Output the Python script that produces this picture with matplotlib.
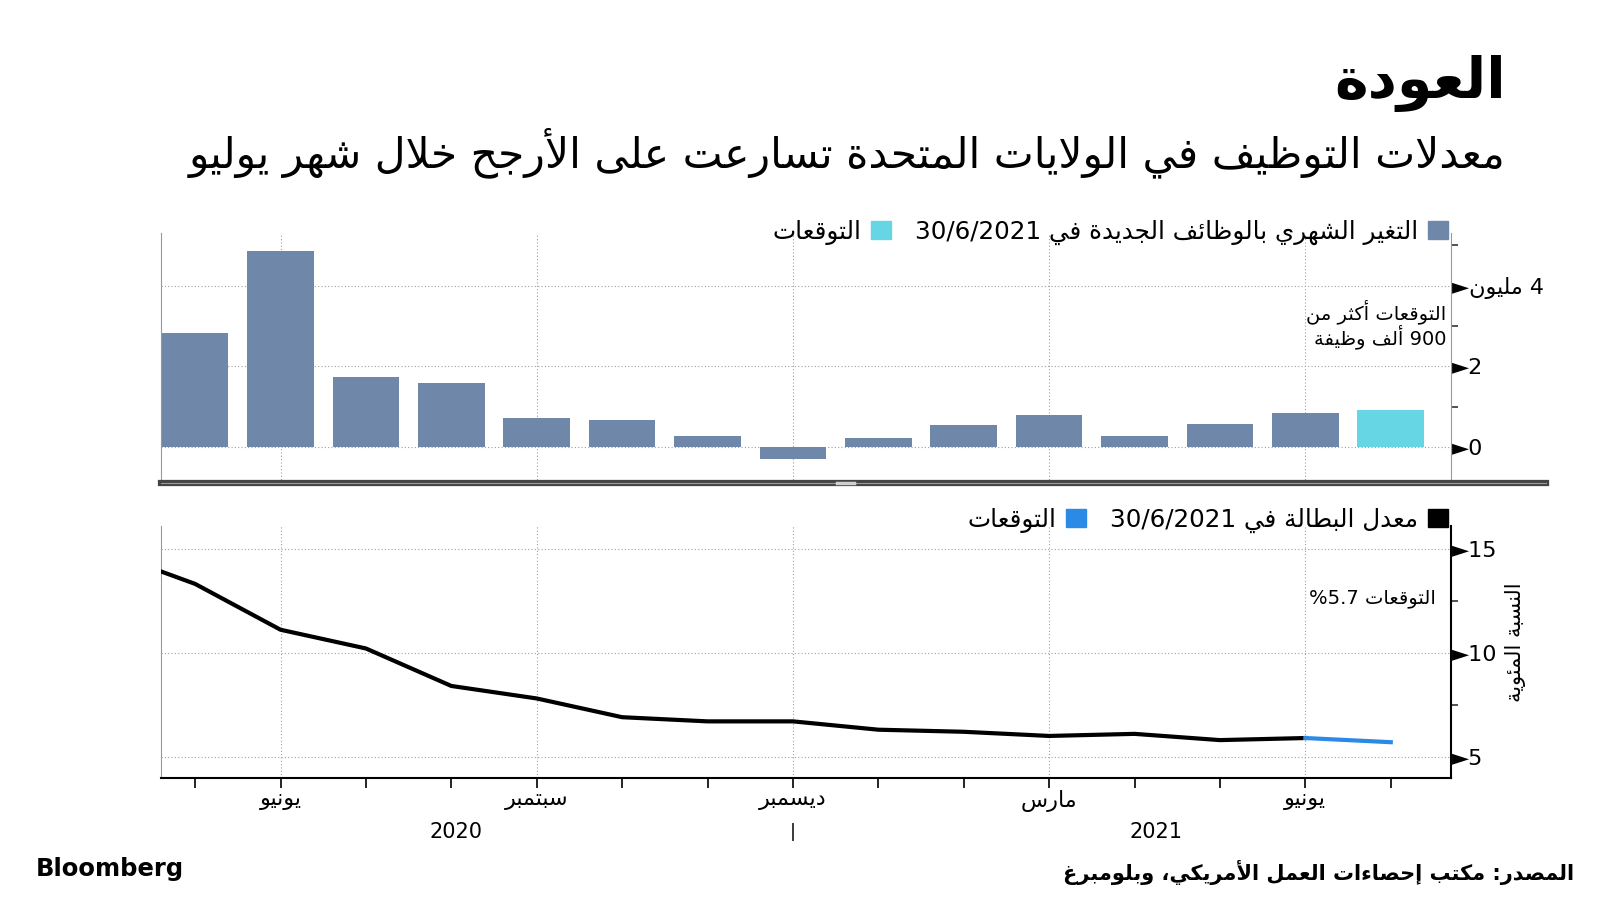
import re
import numpy as np
import matplotlib
matplotlib.use('Agg')
import matplotlib.pyplot as plt
from matplotlib.patches import Patch
from matplotlib.lines import Line2D
import matplotlib.transforms as mtransforms

# --- data -------------------------------------------------------------
months = ['May20', 'Jun20', 'Jul20', 'Aug20', 'Sep20', 'Oct20', 'Nov20', 'Dec20',
          'Jan21', 'Feb21', 'Mar21', 'Apr21', 'May21', 'Jun21', 'Jul21']
payrolls = [2.83, 4.85, 1.73, 1.58, 0.72, 0.68, 0.26, -0.31,
            0.23, 0.54, 0.79, 0.27, 0.58, 0.85]       # millions
payrolls_fcst = 0.91

unemp_months = ['Apr20'] + months[:-1]
unemp = [14.8, 13.3, 11.1, 10.2, 8.4, 7.8, 6.9, 6.7, 6.7,
         6.3, 6.2, 6.0, 6.1, 5.8, 5.9]
unemp_fcst = 5.7

tick_months = [1, 4, 7, 10, 13]
tick_names = ['يونيو', 'سبتمبر', 'ديسمبر', 'مارس', 'يونيو']


# --- minimal arabic shaping + right-to-left ordering -------------------
FORMS = {
    'ء': (0xFE80,), 'آ': (0xFE81, 0xFE82), 'أ': (0xFE83, 0xFE84), 'ؤ': (0xFE85, 0xFE86),
    'إ': (0xFE87, 0xFE88), 'ئ': (0xFE89, 0xFE8A, 0xFE8B, 0xFE8C), 'ا': (0xFE8D, 0xFE8E),
    'ة': (0xFE93, 0xFE94), 'د': (0xFEA9, 0xFEAA), 'ذ': (0xFEAB, 0xFEAC), 'ر': (0xFEAD, 0xFEAE),
    'ز': (0xFEAF, 0xFEB0), 'و': (0xFEED, 0xFEEE), 'ى': (0xFEEF, 0xFEF0),
}
for ch, b in zip('بتثجحخسشصضطظعغفقكلمنهي',
                 [0xFE8F, 0xFE95, 0xFE99, 0xFE9D, 0xFEA1, 0xFEA5, 0xFEB1, 0xFEB5,
                  0xFEB9, 0xFEBD, 0xFEC1, 0xFEC5, 0xFEC9, 0xFECD, 0xFED1, 0xFED5,
                  0xFED9, 0xFEDD, 0xFEE1, 0xFEE5, 0xFEE9, 0xFEF1]):
    FORMS[ch] = (b, b + 1, b + 2, b + 3)
LAM_ALEF = {'ا': (0xFEFB, 0xFEFC), 'أ': (0xFEF7, 0xFEF8),
            'إ': (0xFEF9, 0xFEFA), 'آ': (0xFEF5, 0xFEF6)}


def dual(c):
    return c in FORMS and len(FORMS[c]) == 4


def joins(c):
    return c in FORMS and len(FORMS[c]) > 1


def shape(s):
    out, prev, i = [], None, 0
    while i < len(s):
        c = s[i]
        if c not in FORMS:
            out.append(c)
            prev = None
            i += 1
            continue
        link_prev = prev is not None and dual(prev) and joins(c)
        if c == 'ل' and i + 1 < len(s) and s[i + 1] in LAM_ALEF:
            out.append(chr(LAM_ALEF[s[i + 1]][1 if link_prev else 0]))
            prev = 'ا'
            i += 2
            continue
        nxt = s[i + 1] if i + 1 < len(s) else None
        link_next = dual(c) and nxt is not None and joins(nxt)
        out.append(chr(FORMS[c][(1 if link_prev else 0) + (2 if link_next else 0)]))
        prev = c
        i += 1
    return ''.join(out)


def ar(s):
    runs = re.findall(r'[0-9A-Za-z/.%]+|[^0-9A-Za-z/.%]+', s)
    return ''.join(r if re.match(r'[0-9A-Za-z/.%]', r) else shape(r)[::-1]
                   for r in reversed(runs))


plt.rcParams['font.family'] = ['DejaVu Sans']

BAR = '#6f88aa'
BAR_F = '#66d6e5'
LINE_F = '#2b8ae6'
GRID = dict(color='#a0a0a0', linestyle=(0, (1, 2)), linewidth=0.8)

fig = plt.figure(figsize=(16, 9), dpi=100)
ax1 = fig.add_axes([0.1006, 0.463, 0.806, 0.278])
ax2 = fig.add_axes([0.1006, 0.136, 0.806, 0.280])

x = np.arange(len(payrolls))
ax1.bar(x, payrolls, width=0.78, color=BAR, zorder=3)
ax1.bar(len(payrolls), payrolls_fcst, width=0.78, color=BAR_F, zorder=3)

xu = np.arange(len(unemp)) - 1
ax2.plot(xu, unemp, color='black', lw=3, zorder=3)
ax2.plot([xu[-1], xu[-1] + 1], [unemp[-1], unemp_fcst], color=LINE_F, lw=3, zorder=3)

for ax in (ax1, ax2):
    ax.set_xlim(-0.4, 14.7)
    ax.set_xticks(tick_months)
    ax.grid(True, **GRID)
    ax.set_axisbelow(True)
    ax.yaxis.tick_right()
    ax.spines['top'].set_visible(False)
    ax.spines['left'].set_color('#999999')

ax1.set_ylim(-0.9, 5.3)
ax1.set_yticks([0, 2, 4])
ax1.set_yticklabels(['►0', '►2', '►' + ar('4 مليون')])
ax1.set_yticks([1, 3, 5], minor=True)
ax1.spines['bottom'].set_visible(False)
ax1.spines['right'].set_color('#999999')
ax1.tick_params(axis='x', length=0, labelbottom=False)
ax1.tick_params(axis='y', which='major', length=0, pad=1, labelsize=16)
ax1.tick_params(axis='y', which='minor', length=5, width=1.2, color='#333333')

ax2.set_ylim(4.0, 16.1)
ax2.set_yticks([5, 10, 15])
ax2.set_yticklabels(['►5', '►10', '►15'])
ax2.set_yticks([7.5, 12.5], minor=True)
ax2.set_xticks(np.arange(0, 15), minor=True)
ax2.set_xticklabels([ar(t) for t in tick_names])
ax2.spines['bottom'].set_linewidth(1.5)
ax2.spines['right'].set_linewidth(1.5)
ax2.tick_params(axis='y', which='major', length=0, pad=1, labelsize=16)
ax2.tick_params(axis='y', which='minor', length=5, width=1.2, color='#333333')
ax2.tick_params(axis='x', which='both', length=7, width=1.2, pad=2, labelsize=16)

# year labels under the month axis
tr = mtransforms.blended_transform_factory(ax2.transData, ax2.transAxes)
ax2.text(3.06, -0.215, '2020', transform=tr, ha='center', va='center', fontsize=15)
ax2.text(7, -0.215, '|', transform=tr, ha='center', va='center', fontsize=13)
ax2.text(11.25, -0.215, '2021', transform=tr, ha='center', va='center', fontsize=15)

# annotations
ax1.text(0.997, 3.04, ar('التوقعات أكثر من') + '\n' + ar('900 ألف وظيفة'),
         transform=mtransforms.blended_transform_factory(ax1.transAxes, ax1.transData),
         ha='right', va='center', fontsize=14, linespacing=1.05)
ax2.text(0.989, 12.6, ar('التوقعات %5.7'),
         transform=mtransforms.blended_transform_factory(ax2.transAxes, ax2.transData),
         ha='right', va='center', fontsize=14)
fig.text(0.947, 0.286, ar('النسبة المئوية'), rotation=90, ha='center', va='center', fontsize=15)

# legends (marker on the right of the label, read right to left)
leg_kw = dict(ncol=2, markerfirst=False, loc='center right', frameon=False,
              bbox_transform=fig.transFigure, handlelength=0.8, handleheight=0.8,
              handletextpad=0.4, columnspacing=1.0, fontsize=17.7, borderpad=0,
              borderaxespad=0)
ax1.legend(handles=[Patch(color=BAR_F, label=ar('التوقعات')),
                    Patch(color=BAR, label=ar('التغير الشهري بالوظائف الجديدة في 30/6/2021'))],
           bbox_to_anchor=(0.905, 0.742), **leg_kw)
ax2.legend(handles=[Patch(color=LINE_F, label=ar('التوقعات')),
                    Patch(color='black', label=ar('معدل البطالة في 30/6/2021'))],
           bbox_to_anchor=(0.905, 0.422), **leg_kw)

# separator between the two panels
fig.add_artist(Line2D([0.1006, 0.966], [0.4635, 0.4635], color='#444444', lw=4.5))
fig.add_artist(Line2D([0.1006, 0.966], [0.4635, 0.4635], color='#9a9a9a', lw=0.8))
fig.add_artist(Line2D([0.523, 0.534], [0.4635, 0.4635], color='#cfcfcf', lw=2.5))

# titles and footer
fig.text(0.941, 0.907, ar('العودة'), ha='right', va='center', fontsize=41, fontweight='bold')
fig.text(0.941, 0.83, ar('معدلات التوظيف في الولايات المتحدة تسارعت على الأرجح خلال شهر يوليو'),
         ha='right', va='center', fontsize=30.5)
fig.text(0.0225, 0.034, 'Bloomberg', ha='left', va='center', fontsize=17.5, fontweight='bold')
fig.text(0.984, 0.031, ar('المصدر: مكتب إحصاءات العمل الأمريكي، وبلومبرغ'),
         ha='right', va='center', fontsize=15, fontweight='bold')

plt.savefig('out.png', dpi=100)
